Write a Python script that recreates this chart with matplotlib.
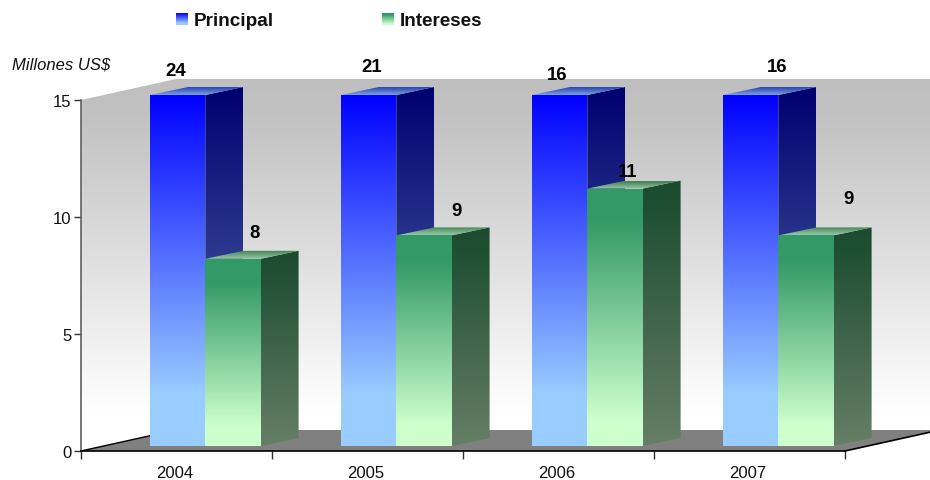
#!/usr/bin/env python3

import matplotlib
matplotlib.use('Agg')
import matplotlib.pyplot as plt
import numpy as np
from matplotlib.colors import LinearSegmentedColormap
from matplotlib.patches import Polygon

plt.rcParams['font.family'] = ['Liberation Sans', 'DejaVu Sans']

years = ['2004', '2005', '2006', '2007']
principal = [24, 21, 16, 16]
intereses = [8, 9, 11, 9]
y_ticks = [0, 5, 10, 15]

# figure size in pixels and where the front plane of the plot sits
W, H = 930, 481
LEFT, RIGHT, TOP, BOTTOM = 81, 845, 101, 452
Y_MAX = 15

# everything below is in axis units: x = categories, y = value
unit_x = (RIGHT - LEFT) / len(years)
unit_y = (BOTTOM - TOP) / Y_MAX
WALL_DX, WALL_DY = 95 / unit_x, 21 / unit_y
BAR_DX, BAR_DY = 38 / unit_x, 8 / unit_y
BAR_W = 55.3 / unit_x
BAR_START = 69 / unit_x
BAR_LIFT = 5 / unit_y

# gradients run top to bottom as (position, colour) stops
wall_fill = [(0, '#bfbfbf'), (0.1, '#c2c2c2'), (0.9, '#ffffff'), (1, '#ffffff')]
blue_front = [(0, '#0000ff'), (0.85, '#99ccff'), (1, '#99ccff')]
blue_side = [(0, '#000070'), (1, '#5c7ab0')]
blue_top = [(0, '#1a38b8'), (1, '#7f9fd8')]
green_front = [(0, '#339966'), (0.12, '#339966'), (0.9, '#ccffcc'), (1, '#ccffcc')]
green_side = [(0, '#1c4a2e'), (0.1, '#1f4f33'), (1, '#667f66')]
green_top = [(0, '#3f7f50'), (1, '#98c8a8')]


def gradient(ax, corners, colors, z):
    # fill a polygon with a vertical gradient
    xs = [c[0] for c in corners]
    ys = [c[1] for c in corners]
    cmap = LinearSegmentedColormap.from_list('face', colors)
    rows = np.linspace(0, 1, 256).reshape(-1, 1)
    im = ax.imshow(rows, cmap=cmap, aspect='auto', zorder=z, interpolation='bilinear',
                   extent=(min(xs), max(xs), min(ys), max(ys)), origin='upper')
    clip = Polygon(corners, closed=True, transform=ax.transData, facecolor='none', edgecolor='none')
    ax.add_patch(clip)
    im.set_clip_box(ax.figure.bbox)
    im.set_clip_path(clip)


def bar(ax, x, value, front, side, top, z):
    # the axis stops at Y_MAX, taller bars are cut off there
    h = min(value, Y_MAX)
    y0 = BAR_LIFT
    gradient(ax, [(x, y0), (x + BAR_W, y0), (x + BAR_W, y0 + h), (x, y0 + h)], front, z)
    gradient(ax, [(x + BAR_W, y0), (x + BAR_W + BAR_DX, y0 + BAR_DY),
                  (x + BAR_W + BAR_DX, y0 + h + BAR_DY), (x + BAR_W, y0 + h)], side, z)
    gradient(ax, [(x, y0 + h), (x + BAR_W, y0 + h),
                  (x + BAR_W + BAR_DX, y0 + h + BAR_DY), (x + BAR_DX, y0 + h + BAR_DY)], top, z)


def main():
    fig = plt.figure(figsize=(W / 100, H / 100), dpi=100, facecolor='white')
    ax = fig.add_axes([LEFT / W, 1 - BOTTOM / H, (RIGHT - LEFT) / W, (BOTTOM - TOP) / H])
    ax.patch.set_visible(False)

    n = len(years)

    # walls, floor
    gradient(ax, [(0, 0), (WALL_DX, WALL_DY), (n + WALL_DX, WALL_DY), (n + WALL_DX, Y_MAX + WALL_DY),
                  (WALL_DX, Y_MAX + WALL_DY), (0, Y_MAX)], wall_fill, 1)
    ax.add_patch(Polygon([(0, 0), (n, 0), (n + WALL_DX, WALL_DY), (WALL_DX, WALL_DY)],
                         facecolor='#808080', edgecolor='none', zorder=2, clip_on=False))
    ax.plot([n, n + WALL_DX], [0, WALL_DY], color='black', lw=1.2, zorder=3, clip_on=False)
    ax.plot([0, WALL_DX], [0, WALL_DY], color='black', lw=1, zorder=3, clip_on=False)

    for i in range(n):
        x = i + BAR_START
        bar(ax, x, principal[i], blue_front, blue_side, blue_top, 4 + 2 * i)
        bar(ax, x + BAR_W, intereses[i], green_front, green_side, green_top, 5 + 2 * i)

    ax.set_xlim(0, n)
    ax.set_ylim(0, Y_MAX)
    ax.set_yticks(y_ticks)
    ax.set_xticks(range(n + 1))
    ax.set_xticklabels([])
    ax.set_xticks(np.arange(n) + 0.49, years, minor=True)
    ax.tick_params(axis='x', which='major', length=6, width=1, color='#303030')
    ax.tick_params(axis='x', which='minor', length=0, labelsize=12, pad=10, colors='#111111')
    ax.tick_params(axis='y', length=5, width=1, labelsize=12, pad=2, color='#303030', colors='#111111')
    for side in ('top', 'right'):
        ax.spines[side].set_visible(False)
    ax.spines['left'].set_color('#606060')
    ax.spines['left'].set_linewidth(1.2)
    ax.spines['bottom'].set_color('black')
    ax.spines['bottom'].set_linewidth(1.2)
    ax.spines['left'].set_zorder(20)
    ax.spines['bottom'].set_zorder(20)

    # value labels sit where the chart's own layout puts them, in figure pixels
    principal_pos = [(176, 71), (372, 67), (557, 76), (777, 67)]
    intereses_pos = [(255, 234), (457, 212), (628, 173), (849, 200)]
    for vals, pos in ((principal, principal_pos), (intereses, intereses_pos)):
        for v, (px, py) in zip(vals, pos):
            fig.text(px / W, 1 - py / H, str(v), ha='center', va='center',
                     fontsize=13.4, fontweight='bold', color='black', zorder=30)

    fig.text(12 / W, 1 - 65 / H, 'Millones US$', style='italic', fontsize=12,
             ha='left', va='center', color='#111111')

    # legend
    for px, colors, name in ((176, blue_front, 'Principal'), (382, green_front, 'Intereses')):
        sw = fig.add_axes([px / W, 1 - 26 / H, 12 / W, 12 / H])
        sw.imshow(np.linspace(0, 1, 64).reshape(-1, 1), aspect='auto',
                  cmap=LinearSegmentedColormap.from_list('swatch', colors))
        sw.axis('off')
        fig.text((px + 18) / W, 1 - 22 / H, name, fontsize=13.6, fontweight='bold',
                 ha='left', va='center', color='#111111')

    fig.savefig('out.png', dpi=100)


if __name__ == "__main__":
    main()
